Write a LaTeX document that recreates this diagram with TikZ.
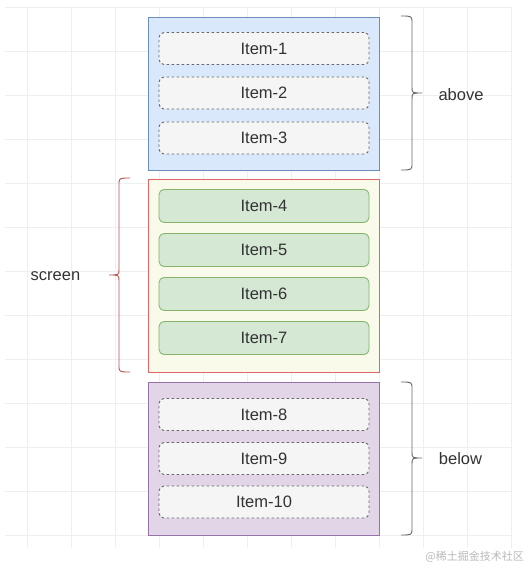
\documentclass[tikz,border=0pt]{standalone}
\usepackage{fontspec}
\setmainfont{Liberation Sans}
\newfontfamily\cjk{Noto Sans CJK SC}
\definecolor{gridc}{HTML}{EFEFEF}
\definecolor{txt}{HTML}{333333}
\definecolor{bluef}{HTML}{DAE8FC}
\definecolor{blued}{HTML}{6C8EBF}
\definecolor{redf}{HTML}{FAFAEA}
\definecolor{redd}{HTML}{E06666}
\definecolor{greenf}{HTML}{D5E8D4}
\definecolor{greend}{HTML}{82B366}
\definecolor{purpf}{HTML}{E1D5E7}
\definecolor{purpd}{HTML}{9673A6}
\definecolor{grayf}{HTML}{F5F5F5}
\definecolor{grayd}{HTML}{666666}
\definecolor{bracer}{HTML}{B85450}
\begin{document}
\begin{tikzpicture}[x=1pt,y=-1pt,
  every node/.style={font=\fontsize{16.5}{19}\selectfont, text=txt},
  container/.style={draw, line width=0.8pt, minimum width=231pt, inner sep=0pt},
  dashitem/.style={draw=grayd, fill=grayf, dash pattern=on 2.5pt off 2.5pt, line width=0.9pt, rounded corners=5pt, minimum width=210pt, minimum height=32pt, inner sep=0pt},
  greenitem/.style={draw=greend, fill=greenf, line width=0.8pt, rounded corners=5pt, minimum width=210pt, minimum height=33pt, inner sep=0pt},
  bracestyle/.style={line width=0.9pt},
  lbl/.style={inner sep=0pt}
]
\useasboundingbox (0,0) rectangle (529,567);
\fill[white] (0,0) rectangle (529,567);
% grid
\foreach \gx in {27,71,...,511} \draw[gridc, line width=0.6pt] (\gx,7) -- (\gx,548);
\foreach \gy in {7,51,...,535} \draw[gridc, line width=0.6pt] (5,\gy) -- (512,\gy);

% containers
\node[container, draw=blued, fill=bluef, minimum height=153pt] (above) at (263.5,93.5) {};
\node[container, draw=redd, fill=redf, minimum height=193pt] (screen) at (263.5,275.5) {};
\node[container, draw=purpd, fill=purpf, minimum height=153pt] (below) at (263.5,458.5) {};

% items
\node[dashitem] (i1) at (264,48.5) {Item-1};
\node[dashitem] (i2) at (264,93) {Item-2};
\node[dashitem] (i3) at (264,138) {Item-3};
\node[greenitem] (i4) at (264,206) {Item-4};
\node[greenitem] (i5) at (264,250) {Item-5};
\node[greenitem] (i6) at (264,294) {Item-6};
\node[greenitem] (i7) at (264,338) {Item-7};
\node[dashitem] (i8) at (264,414.5) {Item-8};
\node[dashitem] (i9) at (264,458.5) {Item-9};
\node[dashitem] (i10) at (264,502) {Item-10};

% right braces
\foreach \ya/\yb/\ym/\nm in {16/170/93/bA, 382/535/458/bB}{
  \coordinate (\nm s) at (401,\ya);
  \coordinate (\nm e) at (401,\yb);
  \coordinate (\nm t) at (422,\ym);
  \draw[grayd, bracestyle] (\nm s) .. controls (412,\ya) .. (412,\ya+7) -- (412,\ym-6)
     .. controls (412,\ym) .. (\nm t) .. controls (412,\ym) .. (412,\ym+6)
     -- (412,\yb-7) .. controls (412,\yb) .. (\nm e);
}
% left brace
\coordinate (bCs) at (130,178);
\coordinate (bCe) at (130,372);
\coordinate (bCt) at (109,275);
\draw[bracer, bracestyle] (bCs) .. controls (119,178) .. (119,185) -- (119,269)
   .. controls (119,275) .. (bCt) .. controls (119,275) .. (119,281)
   -- (119,365) .. controls (119,372) .. (bCe);

% labels
\node[lbl] (labove) at (461,94.5) {above};
\node[lbl] (lscreen) at (55.5,276) {screen};
\node[lbl] (lbelow) at (460.5,459) {below};

% watermark
\node[lbl, text=gray!55, font=\cjk\fontsize{11}{13}\selectfont, anchor=east] (wm) at (524,557) {@稀土掘金技术社区};
\end{tikzpicture}
\end{document}
